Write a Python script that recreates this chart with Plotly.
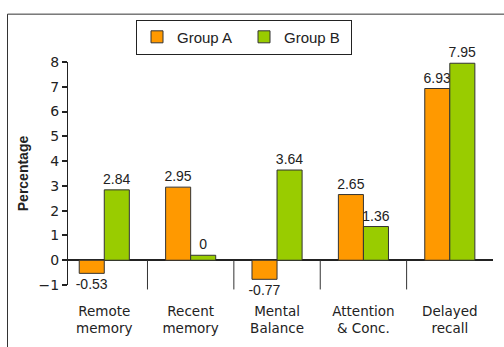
import plotly.graph_objects as go

categories = ["Remote<br>memory", "Recent<br>memory", "Mental<br>Balance", "Attention<br>& Conc.", "Delayed<br>recall"]
group_a = [-0.53, 2.95, -0.77, 2.65, 6.93]
group_b = [2.84, 0.2, 3.64, 1.36, 7.95]
labels_a = ["-0.53", "2.95", "-0.77", "2.65", "6.93"]
labels_b = ["2.84", "0", "3.64", "1.36", "7.95"]
y_ticks = [-1, 0, 1, 2, 3, 4, 5, 6, 7, 8]

W, H = 504, 347
L, R, T, B = 68, 11, 62, 59
y_min, y_max = -1, 8
x_lo, x_hi = -0.42, len(categories) - 0.5

label_font = dict(family="Liberation Sans, Arial", size=14, color="#222")

fig = go.Figure()
fig.add_trace(go.Bar(
    name="Group A", x=categories, y=group_a, text=labels_a,
    textposition="outside", cliponaxis=False, constraintext="none",
    textfont=label_font,
    marker=dict(color="#FF9900", line=dict(color="#333333", width=1)),
))
fig.add_trace(go.Bar(
    name="Group B", x=categories, y=group_b, text=labels_b,
    textposition="outside", cliponaxis=False, constraintext="none",
    textfont=label_font,
    marker=dict(color="#99CC00", line=dict(color="#333333", width=1)),
))

zero_frac = (0 - y_min) / (y_max - y_min)
shapes = []
for i in range(len(categories) - 1):
    shapes.append(dict(type="line", xref="x", yref="paper", x0=i + 0.5, x1=i + 0.5,
                       y0=zero_frac, y1=-0.02, line=dict(color="#333333", width=1)))
# outer frame
pw = W - L - R
ph = H - T - B
shapes.append(dict(type="rect", xref="paper", yref="paper",
                   x0=(7.5 - L) / pw, x1=(W + 5 - L) / pw,
                   y0=(H - T - (H + 5)) / ph, y1=(H - T - 10.5) / ph,
                   line=dict(color="#333333", width=1)))

fig.update_layout(
    width=W, height=H,
    margin=dict(l=L, r=R, t=T, b=B),
    paper_bgcolor="white", plot_bgcolor="white",
    barmode="group", bargap=0.42, bargroupgap=0,
    showlegend=True,
    legend=dict(orientation="h", x=(136 - L) / pw, y=(H - B - 19) / ph,
                xanchor="left", yanchor="top",
                bordercolor="#222", borderwidth=1, bgcolor="white",
                font=dict(family="Liberation Sans, Arial", size=15, color="#222"),
                entrywidth=62, entrywidthmode="pixels"),
    shapes=shapes,
    xaxis=dict(range=[x_lo, x_hi], showline=False, ticks="", showgrid=False,
               ticklabelstandoff=16,
               tickfont=dict(family="DejaVu Sans, Verdana", size=13.5, color="#222"),
               fixedrange=True),
    yaxis=dict(range=[y_min, y_max], tickvals=y_ticks, showgrid=False,
               showline=True, linecolor="#222", linewidth=1,
               ticks="outside", ticklen=5, tickcolor="#222", tickwidth=1.5,
               zeroline=True, zerolinecolor="#222", zerolinewidth=1.5,
               tickfont=dict(family="DejaVu Sans, Verdana", size=14, color="#222"),
               title=dict(text="<b>Percentage</b>", standoff=6,
                          font=dict(family="Liberation Sans, Arial", size=14, color="#222"))),
)

fig.write_html("out.html")
